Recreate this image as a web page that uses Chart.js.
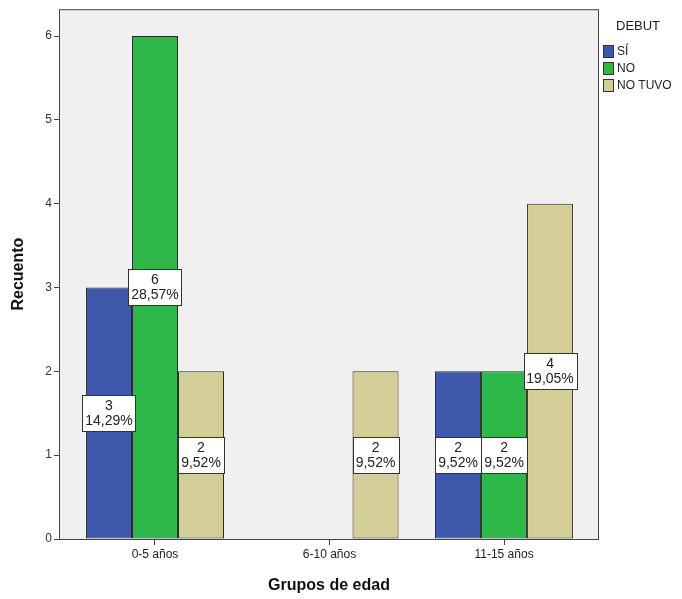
<!DOCTYPE html>
<html>
<head>
<meta charset="utf-8">
<script src="https://cdn.jsdelivr.net/npm/chart.js@4/dist/chart.umd.min.js"></script>
<style>
  html,body{margin:0;padding:0;background:#fff;}
  #wrap{width:682px;height:599px;}
</style>
</head>
<body>
<div id="wrap"><canvas id="c" width="682" height="599"></canvas></div>
<script>
/* Recuento por grupo de edad y debut */
const groups = ['0-5 años','6-10 años','11-15 años'];
const series = ['SÍ','NO','NO TUVO'];
const si     = [3,0,2];
const no     = [6,0,2];
const noTuvo = [2,2,4];
const colors = ['#3d58ab','#2fb84a','#d3ce98'];
const yTicks = [0,1,2,3,4,5,6];

const FONT = "'Liberation Sans', Arial, sans-serif";
const total = [...si,...no,...noTuvo].reduce((a,b)=>a+b,0);
const pct = v => (v/total*100).toFixed(2).replace('.',',')+'%';

const toPts = arr => arr.map((v,i)=>({x:i,y:v}));

/* gray plot panel behind the bars */
const panel = {
  id:'panel',
  beforeDatasetsDraw(chart){
    const {ctx,chartArea:a}=chart;
    ctx.save();
    ctx.fillStyle='#f0f0f0';
    ctx.fillRect(a.left,a.top,a.right-a.left,a.bottom-a.top);
    ctx.restore();
  },
  afterDatasetsDraw(chart){
    const {ctx,chartArea:a}=chart;
    ctx.save();
    ctx.strokeStyle='#444';ctx.lineWidth=1;
    ctx.strokeRect(a.left+0.5,a.top+0.5,a.right-a.left-1,a.bottom-a.top);
    ctx.restore();
  }
};

/* white boxes with count and percent in the middle of each bar */
const boxLabels = {
  id:'boxLabels',
  afterDatasetsDraw(chart){
    const ctx=chart.ctx;
    ctx.save();
    ctx.font='14px '+FONT;
    ctx.textAlign='center';ctx.textBaseline='middle';
    chart.data.datasets.forEach((ds,di)=>{
      chart.getDatasetMeta(di).data.forEach((bar,i)=>{
        const v=ds.data[i].y; if(!v)return;
        const l1=String(v), l2=pct(v);
        const w=Math.round(Math.max(ctx.measureText(l1).width,ctx.measureText(l2).width)+6);
        const h=36;
        const cx=bar.x, cy=(bar.y+bar.base)/2;
        const x0=Math.round(cx-w/2)+0.5, y0=Math.round(cy-h/2)+0.5;
        ctx.fillStyle='#fff';ctx.fillRect(x0,y0,w,h);
        ctx.strokeStyle='#333';ctx.lineWidth=1;ctx.strokeRect(x0,y0,w,h);
        ctx.fillStyle='#222';
        ctx.fillText(l1,cx,cy-7);
        ctx.fillText(l2,cx,cy+8);
      });
    });
    ctx.restore();
  }
};

/* legend at the right */
const sideLegend = {
  id:'sideLegend',
  afterDraw(chart){
    const ctx=chart.ctx;
    ctx.save();
    ctx.font='13px '+FONT;ctx.textBaseline='middle';ctx.textAlign='left';
    ctx.fillStyle='#222';
    ctx.fillText('DEBUT',616,26);
    ctx.font='12px '+FONT;
    series.forEach((s,i)=>{
      const y=45+i*17;
      ctx.fillStyle=colors[i];ctx.fillRect(603.5,y+0.5,10,12);
      ctx.strokeStyle='#333';ctx.lineWidth=1;ctx.strokeRect(603.5,y+0.5,10,12);
      ctx.fillStyle='#222';ctx.fillText(s,617,y+7);
    });
    ctx.restore();
  }
};

new Chart(document.getElementById('c'),{
  type:'bar',
  data:{datasets:[si,no,noTuvo].map((arr,i)=>({
    label:series[i],
    data:toPts(arr),
    backgroundColor:colors[i],
    borderColor:'#2a2a2a',
    borderWidth:c=>c.raw && c.raw.y ? 1 : 0,
    borderSkipped:false,
    categoryPercentage:0.791,
    barPercentage:1
  }))},
  options:{
    responsive:false,animation:false,
    layout:{padding:{top:8,right:83,left:0,bottom:0}},
    plugins:{legend:{display:false},tooltip:{enabled:false}},
    scales:{
      x:{
        type:'linear',min:-0.55,max:2.544,offset:false,
        afterFit:s=>{s.height=60;},
        border:{display:false},
        grid:{drawOnChartArea:false,offset:false,tickLength:6,color:'#444'},
        afterBuildTicks:s=>{s.ticks=groups.map((g,i)=>({value:i}));},
        ticks:{padding:2,color:'#222',
               font:{family:FONT,size:12},
               callback:v=>groups[v]??''},
        title:{display:true,text:'Grupos de edad',color:'#111',
               font:{family:FONT,size:16,weight:'bold'},padding:{top:10}}
      },
      y:{
        min:0,max:6.32,
        afterFit:s=>{s.width=59;},
        border:{display:false},
        grid:{drawOnChartArea:false,tickLength:5,color:'#444'},
        afterBuildTicks:s=>{s.ticks=yTicks.map(v=>({value:v}));},
        ticks:{color:'#333',font:{family:FONT,size:12},padding:2},
        title:{display:true,text:'Recuento',color:'#111',
               font:{family:FONT,size:16,weight:'bold'},padding:{top:9,bottom:6}}
      }
    }
  },
  plugins:[panel,boxLabels,sideLegend]
});
</script>
</body>
</html>
